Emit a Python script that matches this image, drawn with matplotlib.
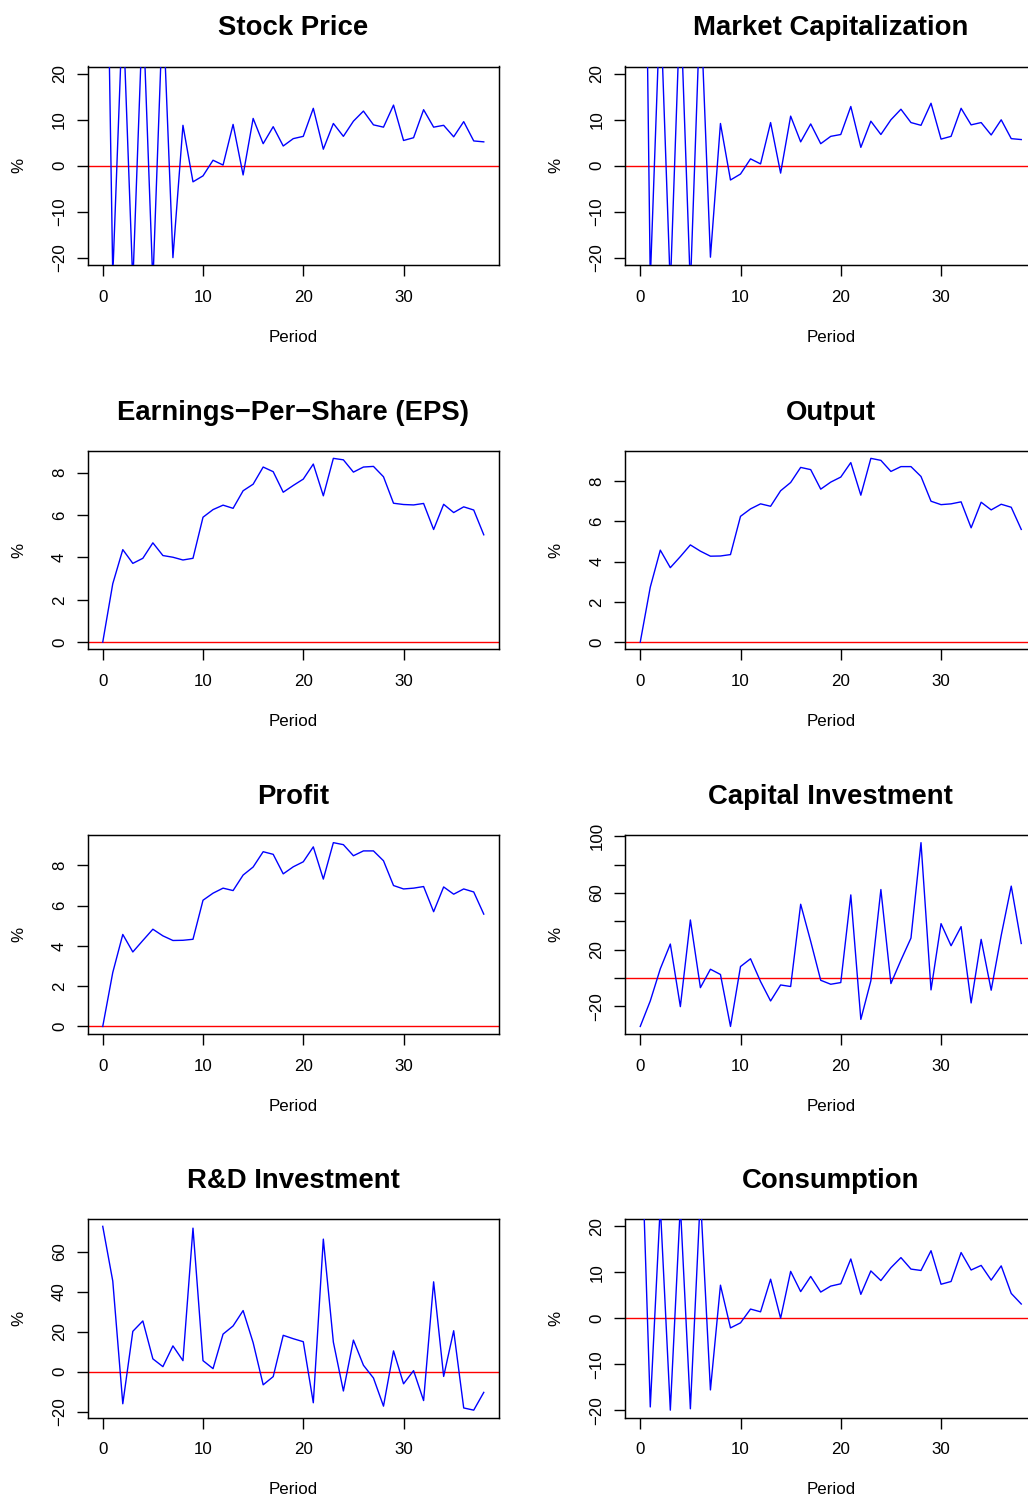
import matplotlib
matplotlib.use("Agg")
import matplotlib.pyplot as plt
import numpy as np

plt.rcParams['font.family'] = ['Liberation Sans', 'DejaVu Sans']

periods = list(range(39))

stock_price = [113, -24, 34.5, -25.6, 34.5, -25.6, 35, -20.0, 8.8, -3.5, -2.2, 1.2, 0.15, 9.0,
               -2.0, 10.3, 4.8, 8.5, 4.3, 5.9, 6.4, 12.5, 3.6, 9.2, 6.4, 9.7, 11.9, 8.9, 8.4,
               13.2, 5.5, 6.1, 12.2, 8.4, 8.8, 6.3, 9.6, 5.4, 5.2]
market_cap = [150, -25, 36, -26.5, 36, -26.5, 36, -19.9, 9.2, -3.1, -1.8, 1.5, 0.4, 9.4, -1.6,
              10.8, 5.2, 9.1, 4.8, 6.4, 6.8, 12.9, 4.0, 9.7, 6.8, 10.0, 12.3, 9.4, 8.8, 13.6,
              5.8, 6.4, 12.5, 8.9, 9.4, 6.7, 10.0, 5.9, 5.7]
eps = [0.0, 2.76, 4.37, 3.72, 3.96, 4.69, 4.09, 4.01, 3.88, 3.96, 5.90, 6.26, 6.47, 6.32, 7.15,
       7.46, 8.27, 8.05, 7.08, 7.40, 7.70, 8.41, 6.91, 8.68, 8.61, 8.03, 8.27, 8.30, 7.81, 6.56,
       6.50, 6.48, 6.55, 5.32, 6.51, 6.12, 6.39, 6.24, 5.07]
output = [0.0, 2.73, 4.57, 3.70, 4.25, 4.83, 4.52, 4.27, 4.28, 4.35, 6.25, 6.62, 6.87, 6.75, 7.52,
          7.93, 8.68, 8.57, 7.60, 7.95, 8.20, 8.92, 7.30, 9.13, 9.03, 8.48, 8.72, 8.72, 8.23, 7.00,
          6.83, 6.87, 6.97, 5.68, 6.95, 6.57, 6.85, 6.70, 5.60]
profit = [0.0, 2.68, 4.57, 3.70, 4.27, 4.83, 4.50, 4.27, 4.28, 4.33, 6.27, 6.62, 6.87, 6.75, 7.52,
          7.92, 8.68, 8.55, 7.58, 7.93, 8.18, 8.92, 7.32, 9.13, 9.03, 8.48, 8.72, 8.72, 8.23, 7.00,
          6.83, 6.87, 6.95, 5.70, 6.93, 6.57, 6.83, 6.68, 5.58]
capital_inv = [-34.3, -16.3, 6.4, 23.9, -20.3, 40.9, -6.9, 6.1, 2.4, -34.3, 8.0, 13.5, -2.6, -16.3,
               -5.0, -6.1, 52.0, 25.8, -1.7, -4.5, -3.3, 58.6, -29.3, -2.1, 62.4, -4.0, 12.5, 28.1,
               95.5, -8.5, 38.3, 22.7, 36.2, -17.7, 27.2, -8.7, 30.0, 64.8, 24.3]
rd_inv = [72.8, 45.4, -16.1, 20.2, 25.4, 6.4, 2.5, 12.9, 5.5, 71.9, 5.5, 1.5, 18.8, 22.9, 30.6,
          14.5, -6.6, -2.5, 18.2, 16.5, 15.0, -15.6, 66.4, 14.8, -9.7, 15.8, 3.2, -3.2, -17.3,
          10.4, -6.1, 0.5, -14.5, 45.0, -2.4, 20.5, -18.2, -19.3, -10.4]
consumption = [49, -19.3, 24.5, -20.0, 24.6, -19.7, 26.7, -15.6, 7.2, -2.1, -1.0, 2.0, 1.4, 8.5,
               0.0, 10.2, 5.8, 9.1, 5.7, 7.0, 7.5, 12.9, 5.2, 10.3, 8.2, 11.0, 13.2, 10.7, 10.4,
               14.7, 7.4, 8.0, 14.3, 10.5, 11.5, 8.3, 11.4, 5.4, 3.1]

titles = ["Stock Price", "Market Capitalization", "Earnings\u2212Per\u2212Share (EPS)", "Output",
          "Profit", "Capital Investment", "R&D Investment", "Consumption"]
series = [stock_price, market_cap, eps, output, profit, capital_inv, rd_inv, consumption]
fixed_ylim = [(-20, 20), (-20, 20), None, None, None, None, None, (-20, 20)]
yticks = [[-20, -10, 0, 10, 20], [-20, -10, 0, 10, 20], [0, 2, 4, 6, 8], [0, 2, 4, 6, 8],
          [0, 2, 4, 6, 8], [-20, 0, 20, 40, 60, 80, 100], [-20, 0, 20, 40, 60], [-20, -10, 0, 10, 20]]
ytick_shown = [None, None, None, None, None, [-20, 20, 60, 100], None, None]
xticks = [0, 10, 20, 30]

W, H = 1028, 1496
fig = plt.figure(figsize=(W / 100, H / 100), dpi=100)

col_left = [87.5, 625.0]
box_w = 411.5
row_top = [66.5, 451.0, 835.3, 1219.0]
box_h = 198.5


def fmt(v):
    return str(v).replace('-', '\u2212')


for k in range(8):
    r, c = divmod(k, 2)
    x0 = col_left[c]
    y0 = row_top[r]
    ax = fig.add_axes([x0 / W, 1 - (y0 + box_h) / H, box_w / W, box_h / H])
    y = series[k]
    ax.plot(periods, y, color='blue', lw=1.0, zorder=3)
    ax.axhline(0, color='red', lw=1.0, zorder=2)
    xr = periods[-1] - periods[0]
    ax.set_xlim(periods[0] - 0.04 * xr, periods[-1] + 0.04 * xr)
    if fixed_ylim[k] is not None:
        lo, hi = fixed_ylim[k]
    else:
        lo, hi = min(y), max(y)
    yr = hi - lo
    ax.set_ylim(lo - 0.04 * yr, hi + 0.04 * yr)
    ax.set_xticks(xticks)
    ax.set_xticklabels([fmt(v) for v in xticks])
    ax.set_yticks(yticks[k])
    shown = ytick_shown[k]
    ax.set_yticklabels([fmt(v) if (shown is None or v in shown) else '' for v in yticks[k]],
                       rotation=90, va='center')
    ax.tick_params(axis='both', direction='out', length=7.8, width=1.0, labelsize=12.2,
                   color='black')
    ax.tick_params(axis='x', pad=10)
    ax.tick_params(axis='y', pad=7)
    for s in ax.spines.values():
        s.set_linewidth(1.05)
        s.set_color('black')
    cx = x0 + box_w / 2
    fig.text(cx / W, 1 - (y0 - 31.5) / H, titles[k], ha='center', va='baseline',
             fontsize=19.8, fontweight='bold')
    fig.text(cx / W, 1 - (y0 + box_h + 77) / H, "Period", ha='center', va='baseline',
             fontsize=12.2)
    fig.text((x0 - 69) / W, 1 - (y0 + box_h / 2) / H, "%", ha='center', va='center',
             rotation=90, fontsize=12.2)

fig.savefig("out.png", dpi=100)
